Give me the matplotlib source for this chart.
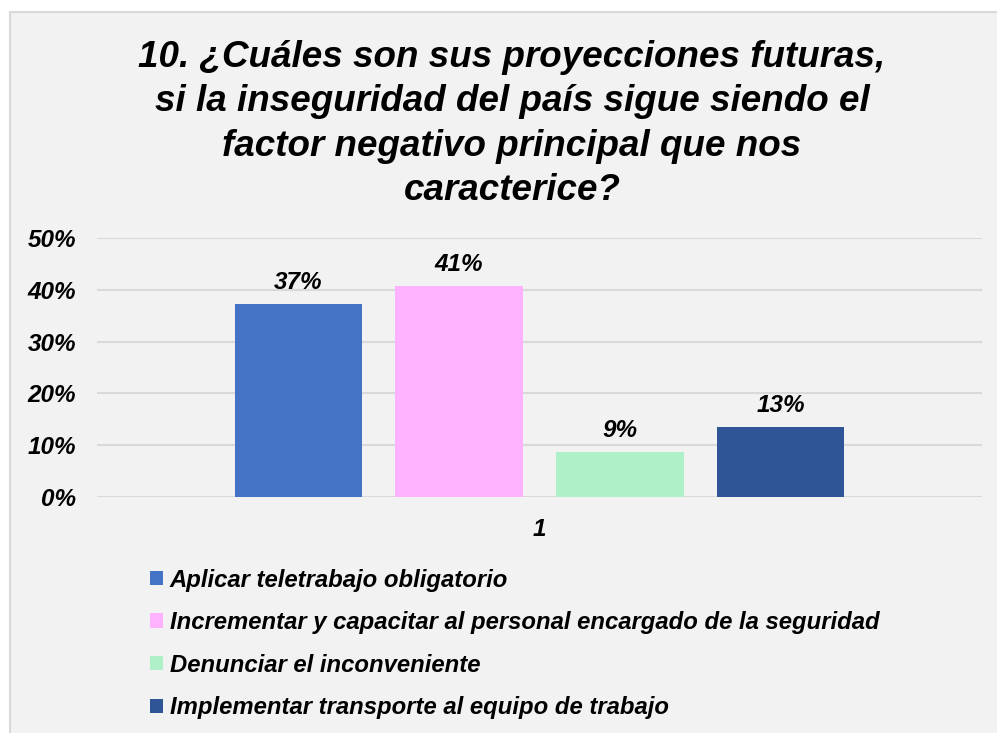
import matplotlib.pyplot as plt
from matplotlib.patches import Rectangle

# data
categories = ["Aplicar teletrabajo obligatorio",
              "Incrementar y capacitar al personal encargado de la seguridad",
              "Denunciar el inconveniente",
              "Implementar transporte al equipo de trabajo"]
values = [0.373, 0.407, 0.087, 0.135]
value_labels = ["37%", "41%", "9%", "13%"]
colors = ["#4472C4", "#FFB3FF", "#B0F0C8", "#2F5597"]
y_ticks = [0, 0.1, 0.2, 0.3, 0.4, 0.5]
y_tick_labels = ["0%", "10%", "20%", "30%", "40%", "50%"]

title = ("10. ¿Cuáles son sus proyecciones futuras,\n"
         "si la inseguridad del país sigue siendo el\n"
         "factor negativo principal que nos\n"
         "caracterice?")

plt.rcParams["font.family"] = ["Liberation Sans", "DejaVu Sans"]
plt.rcParams["font.weight"] = "bold"
plt.rcParams["font.style"] = "italic"

W, H = 997, 733
fig = plt.figure(figsize=(W / 100, H / 100), dpi=100)
fig.patch.set_facecolor("white")

# chart area background with thin border
fig.patches.append(Rectangle((10 / W, -0.05), 1.0, (H - 12) / H + 0.05,
                             transform=fig.transFigure, facecolor="#F2F2F2",
                             edgecolor="#D9D9D9", linewidth=1.5, zorder=-5))

ax = fig.add_axes([97 / W, (H - 497) / H, 885 / W, (497 - 238) / H])
ax.set_facecolor("none")

x = list(range(len(values)))
bars = ax.bar(x, values, width=0.79, color=colors, zorder=3)

for xi, v, lab in zip(x, values, value_labels):
    ax.annotate(lab, (xi, v), xytext=(0, 7), textcoords="offset points",
                ha="center", va="bottom", fontsize=17.5)

ax.set_xlim(-1.25, 4.25)
ax.set_ylim(0, 0.5)
ax.set_yticks(y_ticks)
ax.set_yticklabels(y_tick_labels, fontsize=17.5)
ax.set_xticks([1.5])
ax.set_xticklabels(["1"], fontsize=17.5)
ax.tick_params(axis="y", length=0, pad=15)
ax.tick_params(axis="x", length=0, pad=15)
ax.grid(axis="y", color="#D9D9D9", linewidth=1.5, zorder=0)
for s in ax.spines.values():
    s.set_visible(False)

fig.text(512 / W, 1 - 40 / H, title, ha="center", va="top", fontsize=26.5,
         linespacing=1.35)

fig.legend(handles=list(bars), labels=categories, loc="upper left",
           bbox_to_anchor=(128 / W, 1 - 547 / H), frameon=False,
           fontsize=17.2, handlelength=0.55, handleheight=0.55,
           handletextpad=0.3, labelspacing=0.82)

fig.savefig("out.png", dpi=100)
